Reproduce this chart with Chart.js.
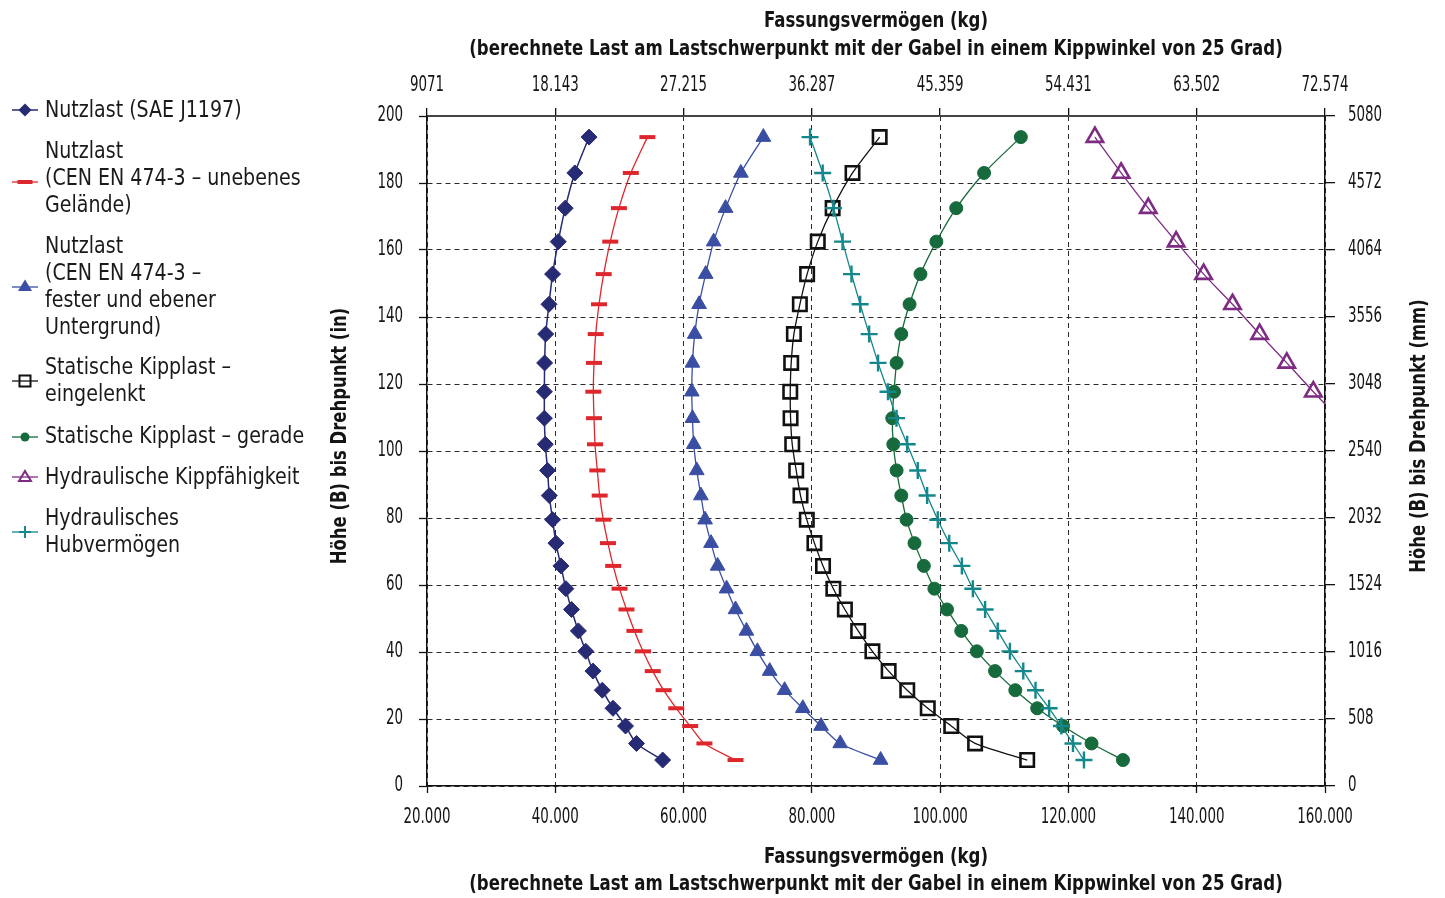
<!DOCTYPE html>
<html>
<head>
<meta charset="utf-8">
<script src="https://cdn.jsdelivr.net/npm/chart.js@4.4.1/dist/chart.umd.min.js"></script>
<style>
html,body{margin:0;padding:0;background:#fff;}
#wrap{position:relative;width:1445px;height:898px;overflow:hidden;}
#c{position:absolute;left:0;top:0;}
#legend{position:absolute;left:0;top:0;font-family:"Liberation Sans Narrow","DejaVu Sans Condensed","Arial Narrow",sans-serif;font-size:23px;line-height:27px;color:#1a1a1a;}
.item{position:absolute;left:0;width:330px;}
.item svg{position:absolute;left:8px;}
.item .t{position:absolute;left:45px;white-space:nowrap;transform:scaleX(0.92);transform-origin:0 0;}
</style>
</head>
<body>
<div id="wrap">
<canvas id="c" width="1445" height="898"></canvas>
<div id="legend"></div>
</div>
<script>
// ---- data (height in inches, capacity in kg), bottom to top ----
const heightsIn = [7.75, 12.7, 17.9, 23.2, 28.6, 34.3, 40.2, 46.3, 52.7, 58.9, 65.7, 72.5, 79.5, 86.7, 94.2, 102.0, 109.8, 117.7, 126.3, 134.9, 143.8, 152.8, 162.5, 172.5, 183.0, 193.7];
const nutzlastSae = [56740, 52660, 50950, 49000, 47330, 45880, 44750, 43600, 42520, 41650, 40880, 40100, 39580, 39065, 38800, 38450, 38300, 38300, 38340, 38500, 39020, 39580, 40460, 41545, 43050, 45265];
const nutzlastUneben = [68100, 63250, 61030, 58860, 56890, 55190, 53680, 52340, 51100, 50020, 49030, 48210, 47480, 46920, 46550, 46195, 46040, 45930, 46040, 46300, 46815, 47540, 48570, 49915, 51775, 54360];
const nutzlastFest = [90720, 84420, 81430, 78590, 75750, 73430, 71510, 69800, 68100, 66700, 65310, 64280, 63350, 62700, 62055, 61590, 61385, 61280, 61385, 61740, 62420, 63450, 64690, 66550, 68930, 72440];
const kippEingelenkt = [113570, 105450, 101730, 98070, 94870, 91970, 89440, 87220, 85150, 83350, 81740, 80400, 79210, 78230, 77560, 76940, 76680, 76630, 76780, 77200, 78130, 79260, 80920, 83240, 86340, 90570];
const kippGerade = [128500, 123600, 119160, 115130, 111720, 108560, 105720, 103290, 101070, 99100, 97460, 96000, 94760, 93940, 93210, 92700, 92540, 92800, 93210, 93940, 95230, 96930, 99410, 102510, 106850, 112580];
const hydrKippHeights = [109.8, 117.7, 126.3, 134.9, 143.8, 152.8, 162.5, 172.5, 183.0, 193.7];
const hydrKipp = [162100, 158180, 154040, 149810, 145580, 141080, 136790, 132450, 128220, 124130];
const hydrHub = [122420, 120710, 118900, 116990, 114870, 112960, 110880, 108980, 107010, 105100, 103390, 101420, 99630, 97970, 96510, 94860, 93200, 91870, 90320, 88930, 87530, 86180, 84790, 83390, 81690, 79720];

const xTicksKg = [20000, 40000, 60000, 80000, 100000, 120000, 140000, 160000];
const topTickLabels = ['9071', '18.143', '27.215', '36.287', '45.359', '54.431', '63.502', '72.574'];
const yTicksIn = [0, 20, 40, 60, 80, 100, 120, 140, 160, 180, 200];
const rightTickLabels = ['0', '508', '1016', '1524', '2032', '2540', '3048', '3556', '4064', '4572', '5080'];

const seriesNames = [
  ['Nutzlast (SAE J1197)'],
  ['Nutzlast', '(CEN EN 474-3 – unebenes', 'Gelände)'],
  ['Nutzlast', '(CEN EN 474-3 –', 'fester und ebener', 'Untergrund)'],
  ['Statische Kipplast –', 'eingelenkt'],
  ['Statische Kipplast – gerade'],
  ['Hydraulische Kippfähigkeit'],
  ['Hydraulisches', 'Hubvermögen']
];
const xTitle = ['Fassungsvermögen (kg)', '(berechnete Last am Lastschwerpunkt mit der Gabel in einem Kippwinkel von 25 Grad)'];
const yTitleLeft = 'Höhe (B) bis Drehpunkt (in)';
const yTitleRight = 'Höhe (B) bis Drehpunkt (mm)';

// ---- styling ----
const FONT = '"Liberation Sans Narrow","DejaVu Sans Condensed","Arial Narrow",sans-serif';
const TXT = '#141414';
const GRID = '#2a2a2a';
const C = {
  sae: '#272b74', uneben: '#de272d', fest: '#3a4ea3', eing: '#111111',
  ger: '#176a3b', kipp: '#7d2b83', hub: '#13878b'
};

function pts(xs, ys) { return xs.map((v, i) => ({x: v, y: ys[i]})); }
function fmtKg(v) { return String(v).replace(/\B(?=(\d{3})+(?!\d))/g, '.'); }

const datasets = [
  {label: seriesNames[0].join(' '), data: pts(nutzlastSae, heightsIn), borderColor: C.sae, backgroundColor: C.sae,
   pointStyle: 'rectRot', pointRadius: 8, pointBorderWidth: 1, borderWidth: 1.5, order: 3},
  {label: seriesNames[1].join(' '), data: pts(nutzlastUneben, heightsIn), borderColor: C.uneben, backgroundColor: C.uneben,
   pointStyle: 'line', pointRadius: 8, pointBorderWidth: 4, borderWidth: 1.3, order: 4},
  {label: seriesNames[2].join(' '), data: pts(nutzlastFest, heightsIn), borderColor: C.fest, backgroundColor: C.fest,
   pointStyle: 'triangle', pointRadius: 8.5, pointBorderWidth: 1, borderWidth: 1.3, order: 5},
  {label: seriesNames[3].join(' '), data: pts(kippEingelenkt, heightsIn), borderColor: C.eing, backgroundColor: 'rgba(0,0,0,0)',
   pointStyle: 'rect', pointRadius: 9.5, pointBorderWidth: 2.6, borderWidth: 1.3, order: 2},
  {label: seriesNames[4].join(' '), data: pts(kippGerade, heightsIn), borderColor: C.ger, backgroundColor: C.ger,
   pointStyle: 'circle', pointRadius: 6.5, pointBorderWidth: 1, borderWidth: 1.3, order: 6},
  {label: seriesNames[5].join(' '), data: pts(hydrKipp, hydrKippHeights), borderColor: C.kipp, backgroundColor: 'rgba(0,0,0,0)',
   pointStyle: 'triangle', pointRadius: 9.5, pointBorderWidth: 2.6, borderWidth: 1.3, order: 7},
  {label: seriesNames[6].join(' '), data: pts(hydrHub, heightsIn), borderColor: C.hub, backgroundColor: C.hub,
   pointStyle: 'cross', pointRadius: 8.5, pointBorderWidth: 2.4, borderWidth: 1.3, order: 1}
];
datasets.forEach(d => { d.fill = false; d.tension = 0.25; d.pointBackgroundColor = d.backgroundColor; d.pointBorderColor = d.borderColor; d.xAxisID = 'x'; d.yAxisID = 'y'; });

// Axis texts drawn with a horizontal squeeze to imitate the condensed original typeface
const TICK_FONT = '21px ' + FONT;
const TITLE_FONT = 'bold 21px ' + FONT;
const TICK_SX = 0.71, TITLE_SX = 0.877, YTITLE_SX = 0.87;

const axisTextPlugin = {
  id: 'axisText',
  afterDraw(chart) {
    const ctx = chart.ctx, s = chart.scales, a = chart.chartArea;
    const T = (txt, x, y, align, font, sx, rot) => {
      ctx.save();
      ctx.font = font; ctx.fillStyle = TXT; ctx.textAlign = align; ctx.textBaseline = 'middle';
      ctx.translate(x, y);
      if (rot) ctx.rotate(rot);
      ctx.scale(sx, 1);
      ctx.fillText(txt, 0, 0);
      ctx.restore();
    };
    xTicksKg.forEach((v, i) => {
      T(fmtKg(v), s.x.getPixelForValue(v), a.bottom + 31.5, 'center', TICK_FONT, TICK_SX);
      T(topTickLabels[i], s.x2.getPixelForValue(v), a.top - 30.5, 'center', TICK_FONT, TICK_SX);
    });
    yTicksIn.forEach((v, i) => {
      T(String(v), a.left - 24, s.y.getPixelForValue(v), 'right', TICK_FONT, TICK_SX);
      T(rightTickLabels[i], a.right + 23, s.y2.getPixelForValue(v), 'left', TICK_FONT, TICK_SX);
    });
    const cx = (a.left + a.right) / 2;
    T(xTitle[0], cx, 857.5, 'center', TITLE_FONT, TITLE_SX);
    T(xTitle[1], cx, 884.5, 'center', TITLE_FONT, TITLE_SX);
    T(xTitle[0], cx, 21.5, 'center', TITLE_FONT, TITLE_SX);
    T(xTitle[1], cx, 49.5, 'center', TITLE_FONT, TITLE_SX);
    const cy = (a.top + a.bottom) / 2 - 15;
    T(yTitleLeft, a.left - 86, cy, 'center', TITLE_FONT, YTITLE_SX, -Math.PI / 2);
    T(yTitleRight, a.right + 95, cy, 'center', TITLE_FONT, YTITLE_SX, -Math.PI / 2);
  }
};

new Chart(document.getElementById('c'), {
  type: 'line',
  data: {datasets},
  plugins: [axisTextPlugin],
  options: {
    responsive: false,
    animation: false,
    devicePixelRatio: 1,
    layout: {padding: {left: 320, right: 0, top: 0, bottom: 0}},
    plugins: {legend: {display: false}, tooltip: {enabled: false}},
    scales: {
      x: {
        type: 'linear', position: 'bottom', min: 20000, max: 160000,
        afterBuildTicks(s) { s.ticks = xTicksKg.map(v => ({value: v})); },
        afterFit(s) { s.height = 112; },
        ticks: {display: false},
        grid: {color: GRID, lineWidth: 1, tickLength: 7, tickColor: '#111', tickBorderDash: [], tickWidth: 1.3},
        border: {display: true, color: '#111', width: 1.5, dash: [5, 4]}
      },
      x2: {
        type: 'linear', position: 'top', min: 20000, max: 160000,
        afterBuildTicks(s) { s.ticks = xTicksKg.map(v => ({value: v})); },
        afterFit(s) { s.height = 116; },
        ticks: {display: false},
        grid: {drawOnChartArea: false, color: '#111', lineWidth: 1.3, tickLength: 8, tickBorderDash: []},
        border: {display: true, color: '#444', width: 2}
      },
      y: {
        type: 'linear', position: 'left', min: 0, max: 200,
        afterBuildTicks(s) { s.ticks = yTicksIn.map(v => ({value: v})); },
        afterFit(s) { s.width = 107; },
        ticks: {display: false},
        grid: {color: GRID, lineWidth: 1, tickLength: 8, tickColor: '#111', tickBorderDash: [], tickWidth: 1.3},
        border: {display: true, color: '#111', width: 1.5, dash: [5, 4]}
      },
      y2: {
        type: 'linear', position: 'right', min: 0, max: 200,
        afterBuildTicks(s) { s.ticks = yTicksIn.map(v => ({value: v})); },
        afterFit(s) { s.width = 120; },
        ticks: {display: false},
        grid: {drawOnChartArea: false, color: '#111', lineWidth: 1.3, tickLength: 10, tickBorderDash: []},
        border: {display: true, color: '#111', width: 1.5}
      }
    }
  }
});

// ---- HTML legend ----
const legendLayout = [
  {top: 95.5, icon: 110}, {top: 136.5, icon: 182}, {top: 231.5, icon: 287}, {top: 352.5, icon: 381},
  {top: 421.5, icon: 437}, {top: 462.5, icon: 477}, {top: 503.5, icon: 532}
];
function iconSvg(i) {
  const line = (col, w) => `<line x1="4" y1="10" x2="30" y2="10" stroke="${col}" stroke-width="${w}"/>`;
  switch (i) {
    case 0: return line(C.sae, 1.5) + `<polygon points="17,3.5 23.5,10 17,16.5 10.5,10" fill="${C.sae}"/>`;
    case 1: return line(C.uneben, 1.3) + `<rect x="9.5" y="8" width="15" height="4" fill="${C.uneben}"/>`;
    case 2: return line(C.fest, 1.3) + `<polygon points="17,2.5 24,14 10,14" fill="${C.fest}"/>`;
    case 3: return line(C.eing, 1.3) + `<rect x="11.5" y="4.5" width="11" height="11" fill="none" stroke="${C.eing}" stroke-width="2"/>`;
    case 4: return line(C.ger, 1.3) + `<circle cx="17" cy="10" r="4.5" fill="${C.ger}"/>`;
    case 5: return line(C.kipp, 1.3) + `<polygon points="17,4 23,14 11,14" fill="none" stroke="${C.kipp}" stroke-width="2"/>`;
    case 6: return line(C.hub, 1.3) + `<line x1="17" y1="4" x2="17" y2="16" stroke="${C.hub}" stroke-width="2"/><line x1="11" y1="10" x2="23" y2="10" stroke="${C.hub}" stroke-width="2"/>`;
  }
}
const legendEl = document.getElementById('legend');
seriesNames.forEach((lines, i) => {
  const L = legendLayout[i];
  const div = document.createElement('div');
  div.className = 'item';
  div.style.top = L.top + 'px';
  div.innerHTML = `<svg width="34" height="20" viewBox="0 0 34 20" style="top:${L.icon - L.top - 10}px">${iconSvg(i)}</svg>` +
    `<div class="t">${lines.join('<br>')}</div>`;
  legendEl.appendChild(div);
});
</script>
</body>
</html>
